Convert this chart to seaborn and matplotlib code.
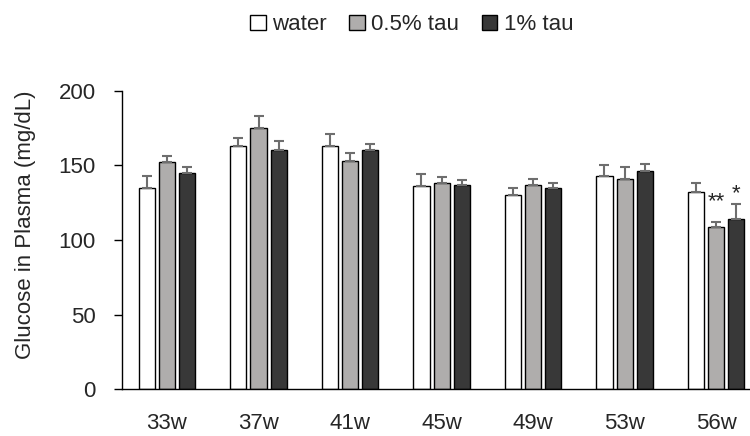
import matplotlib
matplotlib.use("Agg")
import matplotlib.pyplot as plt
import seaborn as sns
import pandas as pd
import numpy as np

# Glucose in plasma (mg/dL), mean and SE
weeks = ["33w", "37w", "41w", "45w", "49w", "53w", "56w"]
groups = ["water", "0.5% tau", "1% tau"]
water = [135, 163, 163, 136, 130, 143, 132]
tau05 = [152, 175, 153, 138, 137, 141, 109]
tau1 = [145, 160, 160, 137, 135, 146, 114]
water_se = [8, 5, 8, 8, 5, 7, 6.5]
tau05_se = [4, 8, 5, 4, 4, 8, 3]
tau1_se = [4, 6.5, 4.5, 3.5, 3.5, 5, 10]
colors = ["#ffffff", "#b0adab", "#383838"]

df = pd.DataFrame({
    "week": weeks * 3,
    "glucose": water + tau05 + tau1,
    "group": [g for g in groups for _ in weeks],
})
errs = [water_se, tau05_se, tau1_se]

sns.set_style("white")
plt.rcParams["font.family"] = ["Liberation Sans", "DejaVu Sans"]

fig = plt.figure(figsize=(7.5, 4.36), dpi=100)
ax = fig.add_axes([0.1623, 0.1071, 0.8377, 0.6849])

sns.barplot(data=df, x="week", y="glucose", hue="group", palette=colors,
            edgecolor="black", linewidth=1.0, width=0.66, gap=0.2,
            errorbar=None, ax=ax)

# upper-only error bars
for cont, e in zip(ax.containers, errs):
    xs = [p.get_x() + p.get_width() / 2 for p in cont]
    hs = [p.get_height() for p in cont]
    ax.errorbar(xs, hs, yerr=[np.zeros(len(e)), e], fmt="none",
                ecolor="#6e6e6e", elinewidth=1.5, capsize=3.6,
                capthick=1.5, zorder=1)

# significance marks at 56w
xs05 = ax.containers[1][-1]
xs1 = ax.containers[2][-1]
ax.text(xs05.get_x() + xs05.get_width() / 2, 122, "**", ha="center",
        va="baseline", fontsize=16)
ax.text(xs1.get_x() + xs1.get_width() / 2, 127, "*", ha="center",
        va="baseline", fontsize=16)

ax.set_ylim(0, 200)
ax.set_xlim(-0.495, 6.37)
ax.set_yticks([0, 50, 100, 150, 200])
ax.set_xlabel("")
ax.set_ylabel("Glucose in Plasma (mg/dL)", fontsize=16)
ax.yaxis.set_label_coords(-0.136, 0.55)

for s in ["top", "right"]:
    ax.spines[s].set_visible(False)
for s in ["left", "bottom"]:
    ax.spines[s].set_color("black")
    ax.spines[s].set_linewidth(1.0)

ax.tick_params(axis="y", direction="out", length=5.8, width=1.0,
               color="black", pad=13, labelsize=16, left=True)
ax.tick_params(axis="x", length=0, pad=17, labelsize=16)

handles, labels = ax.get_legend_handles_labels()
ax.legend(handles, labels, loc="center", bbox_to_anchor=(0.549, 0.943),
          bbox_transform=fig.transFigure, ncol=3, frameon=False,
          fontsize=16, handlelength=0.7, handleheight=0.7,
          handletextpad=0.3, columnspacing=1.0)

fig.savefig("out.png", dpi=100)
